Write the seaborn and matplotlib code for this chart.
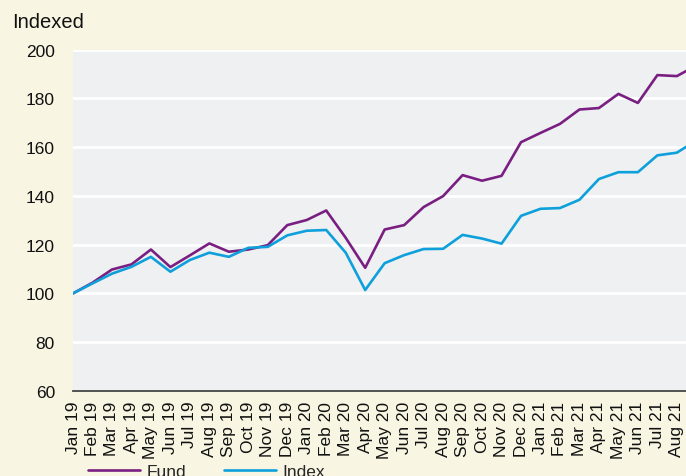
import matplotlib
matplotlib.use("Agg")
import matplotlib.pyplot as plt
import seaborn as sns
import pandas as pd
from matplotlib.lines import Line2D

months = ["Jan 19", "Feb 19", "Mar 19", "Apr 19", "May 19", "Jun 19", "Jul 19", "Aug 19",
          "Sep 19", "Oct 19", "Nov 19", "Dec 19", "Jan 20", "Feb 20", "Mar 20", "Apr 20",
          "May 20", "Jun 20", "Jul 20", "Aug 20", "Sep 20", "Oct 20", "Nov 20", "Dec 20",
          "Jan 21", "Feb 21", "Mar 21", "Apr 21", "May 21", "Jun 21", "Jul 21", "Aug 21",
          "Sep 21"]
fund = [100, 104.4, 109.8, 111.9, 118.0, 110.8, 115.6, 120.5, 117.1, 118.0, 119.8, 128.0,
        130.1, 134.0, 122.8, 110.5, 126.2, 128.0, 135.4, 139.9, 148.5, 146.2, 148.2, 162.0,
        165.8, 169.5, 175.4, 176.0, 181.8, 178.1, 189.5, 189.1, 193.4]
index = [100, 104.1, 108.1, 110.9, 115.0, 108.9, 113.7, 116.7, 115.0, 118.7, 119.1, 123.8,
         125.7, 126.0, 116.7, 101.4, 112.4, 115.7, 118.2, 118.3, 124.0, 122.5, 120.4, 131.8,
         134.7, 135.0, 138.4, 146.9, 149.7, 149.7, 156.6, 157.7, 162.7]
series_names = ["Fund", "Index"]
y_ticks = [60, 80, 100, 120, 140, 160, 180, 200]

sns.set_theme(style="white")
plt.rcParams["font.family"] = ["Liberation Sans", "DejaVu Sans"]

cream = "#f8f5e3"
plot_bg = "#eff0f2"
colors = {"Fund": "#7a1f82", "Index": "#0ea0db"}

df = pd.DataFrame({"pos": list(range(len(months))) * 2,
                   "value": fund + index,
                   "series": [series_names[0]] * len(fund) + [series_names[1]] * len(index)})

fig = plt.figure(figsize=(6.86, 4.77), dpi=100, facecolor=cream)
ax = fig.add_axes([73 / 686, 1 - 392 / 477, 1 - 73 / 686, (392 - 50.5) / 477])
ax.set_facecolor(plot_bg)

sns.lineplot(data=df, x="pos", y="value", hue="series", palette=colors, ax=ax,
             linewidth=1.9, legend=False)

ax.set_xlim(0, 31.47)
ax.set_ylim(60, 200)
ax.set_yticks(y_ticks)
ax.set_yticklabels([str(v) for v in y_ticks], fontsize=12.5, color="#111111")
ax.set_xticks(range(32))
ax.set_xticklabels(months[:32], rotation=90, fontsize=12.5, color="#111111")
ax.tick_params(axis="y", length=0, pad=13)
ax.tick_params(axis="x", length=0, pad=7)
ax.set_xlabel("")
ax.set_ylabel("")
ax.yaxis.grid(True, color="white", linewidth=2)
ax.xaxis.grid(False)
ax.set_axisbelow(True)
for s in ["top", "right", "left"]:
    ax.spines[s].set_visible(False)
ax.spines["bottom"].set_color("#444444")
ax.spines["bottom"].set_linewidth(1.3)
ax.spines["bottom"].set_zorder(5)

fig.text(12 / 686, 1 - 22 / 477, "Indexed", fontsize=14.5, ha="left", va="center",
         color="#111111")

handles = [Line2D([], [], color=colors[n], linewidth=1.9) for n in series_names]
fig.legend(handles, series_names, loc="center left", ncol=2, frameon=False,
           bbox_to_anchor=(88 / 686, 1 - 472 / 477), fontsize=12.5, handlelength=3.0,
           handletextpad=0.35, columnspacing=2.2, borderaxespad=0, borderpad=0)

fig.savefig("out.png", dpi=100, facecolor=cream)
